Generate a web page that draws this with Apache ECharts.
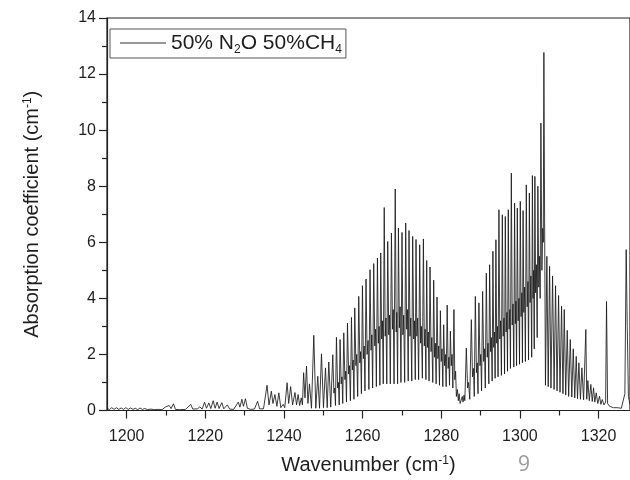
<!DOCTYPE html>
<html>
<head>
<meta charset="utf-8">
<script src="https://cdn.jsdelivr.net/npm/echarts@6/dist/echarts.min.js"></script>
<style>
html,body{margin:0;padding:0;background:#fff;}
#chart{width:630px;height:480px;}
</style>
</head>
<body>
<div id="chart"></div>
<script>
// ---- Data ----
const wavenumber = [
1195.0,1195.6,1196.2,1196.8,1197.4,1198.0,1198.6,1199.2,1199.8,1200.4,1201.0,1201.6,1202.2,1202.8,1203.4,1204.0,1204.6,1205.3,1206.2,1207.0,
1208.0,1209.0,1209.8,1210.3,1210.8,1211.3,1211.9,1212.4,1213.5,1215.0,1216.3,1216.8,1218.0,1218.6,1219.2,1219.8,1220.3,1220.9,1221.4,1222.0,
1222.5,1223.0,1223.5,1224.2,1224.7,1225.6,1226.2,1227.2,1228.4,1228.8,1229.3,1229.7,1230.2,1230.7,1231.5,1232.5,1233.3,1233.8,1234.8,1235.7,
1236.2,1236.8,1237.2,1237.7,1238.2,1238.7,1239.2,1239.8,1240.2,1240.8,1241.2,1241.7,1242.2,1242.8,1243.2,1243.6,1244.0,1244.4,1244.7,1245.0,
1245.35,1245.73,1246.1,1246.49,1247.0,1247.59,1248.1,1248.6,1249.05,1249.54,1250.05,1250.56,1251.0,1251.4,1251.9,1252.42,1252.7,1252.9,1253.1,1253.35,
1253.65,1253.85,1254.05,1254.27,1254.55,1254.75,1254.95,1255.21,1255.5,1255.7,1255.9,1256.15,1256.45,1256.65,1256.9,1257.17,1257.4,1257.6,1257.8,1258.0,
1258.3,1258.5,1258.75,1259.02,1259.3,1259.5,1259.7,1259.96,1260.2,1260.4,1260.6,1260.87,1261.15,1261.4,1261.6,1261.89,1262.15,1262.35,1262.55,1262.83,
1263.1,1263.3,1263.5,1263.77,1264.0,1264.2,1264.4,1264.61,1264.85,1265.05,1265.25,1265.5,1265.75,1265.95,1266.15,1266.39,1266.65,1266.85,1267.05,1267.33,
1267.6,1267.8,1268.0,1268.3,1268.55,1268.7,1268.9,1269.11,1269.35,1269.55,1269.75,1270.02,1270.25,1270.45,1270.7,1270.96,1271.2,1271.4,1271.6,1271.8,
1272.05,1272.25,1272.5,1272.74,1273.0,1273.2,1273.4,1273.58,1273.8,1274.0,1274.25,1274.52,1274.75,1274.95,1275.2,1275.46,1275.7,1275.9,1276.1,1276.3,
1276.5,1276.7,1276.9,1277.14,1277.4,1277.6,1277.85,1278.08,1278.3,1278.5,1278.7,1278.92,1279.15,1279.35,1279.55,1279.78,1280.0,1280.2,1280.4,1280.62,
1280.85,1281.05,1281.25,1281.51,1281.75,1281.95,1282.1,1282.32,1282.55,1282.75,1282.95,1283.23,1283.45,1283.65,1283.85,1284.1,1284.35,1284.55,1284.8,1285.1,
1285.35,1285.55,1285.8,1286.0,1286.38,1286.7,1286.95,1287.25,1287.65,1287.95,1288.2,1288.4,1288.67,1288.95,1289.15,1289.35,1289.58,1289.85,1290.05,1290.25,
1290.52,1290.8,1291.0,1291.2,1291.46,1291.7,1291.9,1292.1,1292.3,1292.55,1292.75,1292.95,1293.14,1293.35,1293.55,1293.7,1293.9,1294.1,1294.3,1294.45,
1294.67,1294.9,1295.1,1295.3,1295.53,1295.75,1295.95,1296.1,1296.29,1296.5,1296.7,1296.85,1297.05,1297.25,1297.45,1297.6,1297.82,1298.05,1298.25,1298.45,
1298.65,1298.85,1299.0,1299.15,1299.34,1299.55,1299.75,1299.9,1300.1,1300.3,1300.5,1300.65,1300.81,1301.0,1301.2,1301.4,1301.63,1301.85,1302.05,1302.2,
1302.41,1302.6,1302.8,1303.0,1303.18,1303.35,1303.5,1303.65,1303.81,1304.0,1304.2,1304.4,1304.57,1304.8,1305.0,1305.15,1305.34,1305.6,1305.8,1305.95,
1306.1,1306.3,1306.5,1306.86,1307.2,1307.55,1307.9,1308.31,1308.7,1309.07,1309.45,1309.84,1310.2,1310.6,1310.95,1311.28,1311.65,1312.04,1312.4,1312.81,
1313.2,1313.57,1313.95,1314.33,1314.65,1315.0,1315.4,1315.76,1316.2,1316.77,1317.0,1317.28,1317.65,1318.04,1318.4,1318.73,1319.05,1319.41,1319.8,1320.25,
1320.6,1320.94,1321.4,1321.8,1322.03,1322.3,1322.8,1323.3,1323.8,1324.3,1324.8,1325.3,1325.8,1326.3,1326.7,1327.03,1327.3,1327.6,1328.0
];
const absorption = [
0.08,0.03,0.10,0.04,0.10,0.04,0.09,0.04,0.10,0.04,0.09,0.04,0.08,0.03,0.09,0.04,0.07,0.03,0.05,0.03,
0.04,0.03,0.12,0.05,0.18,0.07,0.24,0.04,0.03,0.04,0.22,0.05,0.06,0.13,0.05,0.30,0.08,0.27,0.07,0.35,
0.08,0.30,0.07,0.28,0.06,0.20,0.05,0.04,0.30,0.12,0.40,0.15,0.42,0.08,0.04,0.05,0.33,0.06,0.06,0.90,
0.20,0.69,0.25,0.57,0.15,0.63,0.10,0.22,0.10,0.99,0.25,0.85,0.20,0.64,0.20,0.57,0.18,0.45,0.20,1.35,
0.45,1.58,0.25,0.95,0.08,2.68,0.08,1.22,0.08,2.02,0.10,1.52,0.10,1.73,0.12,1.99,0.62,0.80,0.18,2.61,
0.80,1.00,0.20,2.53,0.95,1.20,0.25,2.77,1.10,1.40,0.30,3.12,1.30,1.60,0.35,3.32,1.45,1.80,0.40,3.66,
1.60,2.00,0.50,4.07,1.70,2.10,0.60,4.45,1.85,2.30,0.70,4.69,2.00,2.50,0.75,5.02,2.15,2.70,0.80,5.24,
2.30,2.90,0.85,5.44,2.40,3.00,0.90,5.62,2.55,3.20,0.95,7.24,2.65,3.30,0.95,6.03,2.70,3.40,0.95,6.33,
2.90,3.60,0.95,7.90,2.80,3.50,0.95,6.51,2.95,3.70,1.00,6.35,2.70,3.40,1.00,6.69,2.90,3.60,1.05,6.42,
2.65,3.30,1.05,6.21,2.55,3.20,1.10,6.10,2.65,3.30,1.10,5.91,2.40,3.00,1.15,6.12,2.30,2.90,1.10,5.35,
2.25,2.80,1.05,5.12,2.10,2.60,1.00,4.65,1.90,2.40,0.95,4.05,1.85,2.30,0.90,3.56,1.75,2.20,0.85,3.06,
1.60,2.00,0.85,3.76,1.50,1.90,0.90,2.83,1.60,2.00,0.80,3.60,1.10,1.40,0.50,0.75,0.35,0.60,0.25,0.21,
0.50,0.30,0.55,0.35,2.23,0.80,1.00,0.40,3.24,1.20,1.50,0.50,4.07,1.35,1.70,0.60,3.84,1.60,2.00,0.70,
4.25,1.75,2.20,0.80,4.90,1.90,2.40,0.95,5.20,2.10,2.60,1.05,5.68,2.25,2.80,1.15,6.09,2.40,3.00,1.20,
7.16,2.55,3.20,1.25,6.98,2.65,3.30,1.30,6.92,2.80,3.50,1.40,7.16,2.90,3.60,1.50,8.47,3.05,3.80,1.55,
7.40,3.10,3.90,1.60,7.22,3.20,4.00,1.65,7.46,3.35,4.20,1.70,7.13,3.50,4.40,1.75,8.05,3.70,4.60,1.80,
7.76,3.85,4.80,1.90,8.38,4.00,5.00,2.20,8.35,4.20,5.20,2.60,8.00,4.40,5.50,4.00,10.25,5.00,6.50,6.00,
12.77,6.40,0.90,5.50,0.85,5.14,0.80,4.80,0.75,4.45,0.70,4.10,0.65,3.72,0.60,3.60,0.55,2.86,0.50,2.53,
0.48,2.20,0.45,1.93,0.42,1.70,0.40,1.52,0.38,2.89,0.40,1.07,0.35,0.93,0.32,0.81,0.30,0.63,0.25,0.51,
0.22,0.39,0.20,0.30,3.89,0.25,0.15,0.20,0.10,0.15,0.10,0.12,0.08,0.15,0.60,5.74,3.00,0.50,0.20
];
const seriesName = '50% N2O 50%CH4';
const xMajorTicks = [1200, 1220, 1240, 1260, 1280, 1300, 1320];
const xMinorTicks = [1210, 1230, 1250, 1270, 1290, 1310];
const yTicks = [0, 2, 4, 6, 8, 10, 12, 14];

const points = wavenumber.map((x, i) => [x, absorption[i]]);

const chart = echarts.init(document.getElementById('chart'), null, {renderer: 'canvas'});
const FONT = '"Liberation Sans", Arial, sans-serif';
const TXT = '#1e1e1e';

const option = {
  animation: false,
  backgroundColor: '#fff',
  grid: {
    left: 107, top: 18, width: 523.5, height: 393,
    show: true, borderColor: '#222', borderWidth: 1.2, backgroundColor: 'transparent'
  },
  legend: {
    show: true,
    left: 110, top: 29,
    padding: [1, 4, 2, 10],
    itemWidth: 46, itemHeight: 10, itemGap: 6,
    borderColor: '#555', borderWidth: 1,
    data: [{name: seriesName, icon: 'path://M0,0 L46,0 L46,1 L0,1 Z', itemStyle: {color: '#333'}}],
    formatter: () => '50% N{sub|2}O 50%CH{sub|4}',
    textStyle: {
      fontFamily: FONT, fontSize: 21, color: TXT, lineHeight: 26,
      rich: {
        sub: {fontFamily: FONT, fontSize: 12, color: TXT, verticalAlign: 'bottom', lineHeight: 12}
      }
    }
  },
  xAxis: [
    {
      type: 'value', min: 1195, max: 1328, position: 'bottom',
      name: 'Wavenumber (cm{sup|-1})',
      nameLocation: 'middle', nameGap: 44,
      nameTextStyle: {
        fontFamily: FONT, fontSize: 20, color: TXT,
        rich: {sup: {fontFamily: FONT, fontSize: 12, color: TXT, verticalAlign: 'top', padding: [0, 0, 9, 0]}}
      },
      axisLine: {show: true, onZero: false, lineStyle: {color: '#222', width: 1.2}},
      axisTick: {show: true, inside: false, length: 8, lineStyle: {color: '#222', width: 1.2}, customValues: xMajorTicks},
      axisLabel: {show: true, margin: 18, fontFamily: FONT, fontSize: 16, color: TXT, customValues: xMajorTicks,
        formatter: v => String(v)},
      splitLine: {show: false}
    },
    {
      type: 'value', min: 1195, max: 1328, position: 'bottom', offset: 0,
      axisLine: {show: false, onZero: false},
      axisTick: {show: true, inside: false, length: 5, lineStyle: {color: '#222', width: 1.2}, customValues: xMinorTicks},
      axisLabel: {show: false},
      splitLine: {show: false}
    }
  ],
  yAxis: {
    type: 'value', min: 0, max: 14, interval: 2,
    name: 'Absorption coefficient (cm{sup|-1})',
    nameLocation: 'middle', nameGap: 64, nameRotate: 90,
    nameTextStyle: {
      fontFamily: FONT, fontSize: 20, color: TXT,
      rich: {sup: {fontFamily: FONT, fontSize: 12, color: TXT, verticalAlign: 'top', padding: [0, 0, 9, 0]}}
    },
    axisLine: {show: true, onZero: false, lineStyle: {color: '#222', width: 1.2}},
    axisTick: {show: true, inside: false, length: 8, lineStyle: {color: '#222', width: 1.2}},
    minorTick: {show: true, splitNumber: 2, length: 5, lineStyle: {color: '#222', width: 1.2}},
    axisLabel: {show: true, margin: 11, fontFamily: FONT, fontSize: 16, color: TXT,
      formatter: v => (yTicks.indexOf(v) >= 0 ? String(v) : '')},
    splitLine: {show: false}
  },
  series: [{
    name: seriesName,
    type: 'line',
    xAxisIndex: 0,
    data: points,
    showSymbol: false,
    symbol: 'none',
    lineStyle: {color: '#1a1a1a', width: 0.85},
    itemStyle: {color: '#333'},
    clip: true
  }],
  graphic: [{
    type: 'text', left: 518, top: 455,
    style: {text: '9', fill: '#9a9a9a', font: '21px "Open Sans", "Liberation Sans", sans-serif'}
  }]
};
chart.setOption(option);
</script>
</body>
</html>
